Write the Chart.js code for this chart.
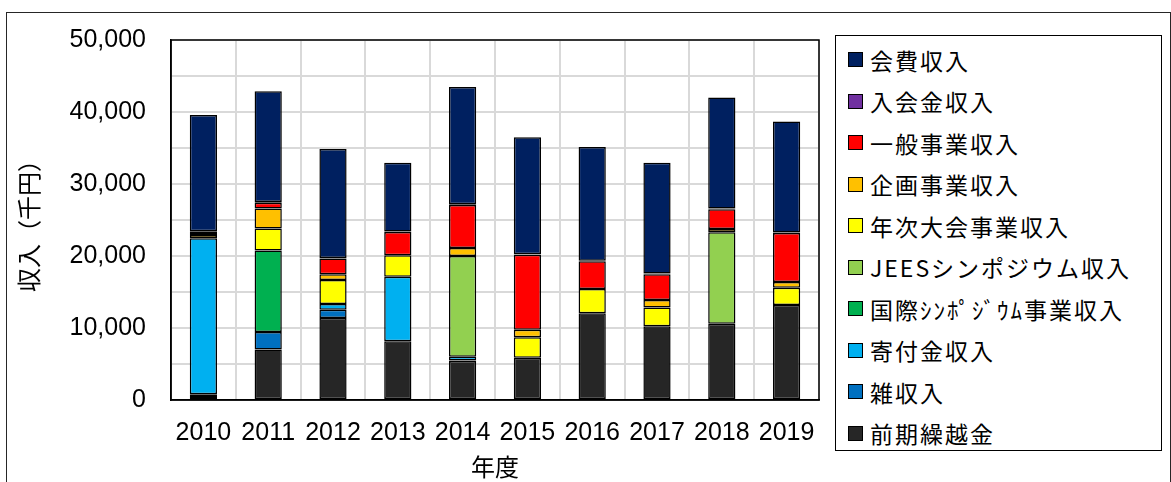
<!DOCTYPE html>
<html>
<head>
<meta charset="utf-8">
<script src="https://cdn.jsdelivr.net/npm/chart.js@4/dist/chart.umd.min.js"></script>
<style>
    body { margin: 0; background: #fff; }
    #wrap { position: relative; width: 1171px; height: 482px; overflow: hidden; }
    #frame { position: absolute; left: 6px; top: 12px; width: 1163px; height: 480px; border: 1px solid #262626; }
    #incomeChart { position: absolute; left: 0; top: 0; }
    #legend {
        position: absolute; left: 835px; top: 35px; width: 327px; height: 416px;
        box-sizing: border-box; border: 1.5px solid #000; background: #fff; padding-top: 3px;
    }
    .item { height: 41.5px; display: flex; align-items: center; padding-left: 12px;
        font-family: "Noto Sans CJK JP", sans-serif; font-size: 23px; letter-spacing: 2px; color: #000; white-space: nowrap; }
    .swatch { width: 13px; height: 13px; border: 1px solid #000; margin-right: 7px; flex: none; }
</style>
</head>
<body>
<div id="wrap">
    <div id="frame"></div>
    <canvas id="incomeChart" width="1171" height="482"></canvas>
    <div id="legend"></div>
</div>
<script>
// 年度
const years = ['2010', '2011', '2012', '2013', '2014', '2015', '2016', '2017', '2018', '2019'];

// 収入（千円）, stacked bottom to top
const zenkiKurikoshi = [400, 7000, 11380, 8170, 5400, 5870, 12060, 10230, 10600, 13200];
const zatsuShunyu   = [400, 2430, 1150, 0, 100, 0, 0, 0, 0, 0];
const kifukin       = [21650, 0, 820, 8950, 500, 0, 0, 0, 0, 0];
const kokusaiSympo  = [0, 11330, 0, 0, 0, 0, 0, 0, 0, 0];
const jeesSympo     = [0, 0, 0, 0, 14000, 0, 0, 0, 12700, 0];
const nenjiTaikai   = [0, 3070, 3300, 3000, 0, 2840, 3350, 2615, 0, 2380];
const kikakuJigyo   = [450, 2750, 830, 0, 1100, 1050, 0, 1055, 460, 820];
const ippanJigyo    = [450, 830, 2160, 3200, 6000, 10400, 3850, 3580, 2750, 6800];
const nyukaikin     = [80, 80, 80, 80, 80, 80, 80, 80, 80, 80];
const kaihi         = [16150, 15400, 15140, 9535, 16300, 16270, 15800, 15375, 15430, 15390];

const yTicks = [0, 10000, 20000, 30000, 40000, 50000];

const series = [
    { label: '前期繰越金', data: zenkiKurikoshi, color: '#262626' },
    { label: '雑収入', data: zatsuShunyu, color: '#0070C0' },
    { label: '寄付金収入', data: kifukin, color: '#00B0F0' },
    { label: '国際ｼﾝﾎﾟｼﾞｳﾑ事業収入', data: kokusaiSympo, color: '#00B050' },
    { label: 'JEESシンポジウム収入', data: jeesSympo, color: '#92D050' },
    { label: '年次大会事業収入', data: nenjiTaikai, color: '#FFFF00' },
    { label: '企画事業収入', data: kikakuJigyo, color: '#FFC000' },
    { label: '一般事業収入', data: ippanJigyo, color: '#FF0000' },
    { label: '入会金収入', data: nyukaikin, color: '#7030A0' },
    { label: '会費収入', data: kaihi, color: '#002060' }
];

const numFont = { family: "'Liberation Sans', Arial, sans-serif", size: 25 };
const cjkFont = { family: "'Noto Sans CJK JP', sans-serif", size: 24 };

// top and right edge of the plot area
const plotBorder = {
    id: 'plotBorder',
    afterDraw(chart) {
        const { ctx, chartArea } = chart;
        ctx.save();
        ctx.strokeStyle = '#000';
        ctx.lineWidth = 1.5;
        ctx.strokeRect(chartArea.left, chartArea.top, chartArea.right - chartArea.left, chartArea.bottom - chartArea.top);
        ctx.restore();
    }
};

// legend drawn as html, top item = top of the stack
const htmlLegend = {
    id: 'htmlLegend',
    afterUpdate(chart) {
        const box = document.getElementById('legend');
        box.innerHTML = '';
        const items = chart.options.plugins.legend.labels.generateLabels(chart).reverse();
        items.forEach(item => {
            const row = document.createElement('div');
            row.className = 'item';
            const sw = document.createElement('span');
            sw.className = 'swatch';
            sw.style.background = item.fillStyle;
            row.appendChild(sw);
            row.appendChild(document.createTextNode(item.text));
            box.appendChild(row);
        });
    }
};

new Chart(document.getElementById('incomeChart'), {
    type: 'bar',
    data: {
        labels: years,
        datasets: series.map(s => ({
            label: s.label,
            data: s.data,
            backgroundColor: s.color,
            borderColor: '#000',
            borderWidth: 1.5,
            borderSkipped: false,
            categoryPercentage: 1,
            barPercentage: 0.42
        }))
    },
    options: {
        responsive: false,
        animation: false,
        layout: { padding: { left: 0, right: 352, top: 36, bottom: 0 } },
        scales: {
            x: {
                stacked: true,
                grid: { color: '#d9d9d9', lineWidth: 2, drawTicks: false },
                border: { color: '#000', width: 1.5 },
                ticks: { color: '#000', font: numFont, padding: 18, maxRotation: 0, autoSkip: false },
                title: { display: true, text: '年度', color: '#000', font: cjkFont, padding: { top: 0, bottom: 1 } },
                afterFit(scale) { scale.height = 82; }
            },
            y: {
                stacked: true,
                min: 0,
                max: 50000,
                grid: { color: '#d9d9d9', lineWidth: 2, drawTicks: false },
                border: { color: '#000', width: 1.5 },
                ticks: {
                    stepSize: 5000,
                    color: '#000',
                    font: numFont,
                    padding: 25,
                    callback: v => yTicks.includes(v) ? v.toLocaleString('en-US') : ''
                },
                title: { display: true, text: '収入（千円）', color: '#000', font: cjkFont, padding: { top: 14, bottom: 0 } },
                afterFit(scale) { scale.width = 171; }
            }
        },
        plugins: {
            legend: { display: false },
            tooltip: { enabled: false }
        }
    },
    plugins: [plotBorder, htmlLegend]
});
</script>
</body>
</html>
